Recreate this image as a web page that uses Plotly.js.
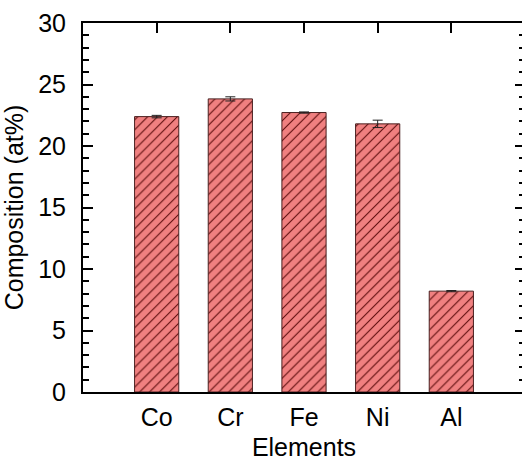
<!DOCTYPE html>
<html>
<head>
<meta charset="utf-8">
<script src="https://cdn.plot.ly/plotly-3.0.1.min.js"></script>
<style>
html,body{margin:0;padding:0;overflow:hidden;background:#fff;}
#chart{width:525px;height:461px;}
</style>
</head>
<body>
<div id="chart"></div>
<script>
const elements = ["Co", "Cr", "Fe", "Ni", "Al"];
const composition = [22.39, 23.83, 22.72, 21.80, 8.20];
const errors = [0.10, 0.17, 0.05, 0.30, 0.05];
const positions = [1, 2, 3, 4, 5];

const FONT = "Liberation Sans, Arial, sans-serif";

const trace = {
  type: "bar",
  x: positions,
  y: composition,
  width: 0.6,
  marker: {
    color: "#f08080",
    line: {color: "#4a2020", width: 1},
    pattern: {shape: "/", fgcolor: "#5a0a0a", bgcolor: "#f08080", size: 7, solidity: 0.15}
  },
  error_y: {type: "data", array: errors, visible: true, color: "#222", thickness: 1, width: 5},
  hoverinfo: "x+y"
};

const layout = {
  width: 525,
  height: 461,
  margin: {l: 83, r: 0, t: 23, b: 69},
  paper_bgcolor: "#fff",
  plot_bgcolor: "#fff",
  showlegend: false,
  font: {family: FONT, size: 25, color: "#000"},
  xaxis: {
    range: [0, 6],
    tickmode: "array",
    tickvals: positions,
    ticktext: elements,
    ticks: "inside",
    ticklen: 10,
    tickwidth: 2,
    tickcolor: "#000",
    showline: true,
    linecolor: "#000",
    linewidth: 2,
    mirror: "ticks",
    showgrid: false,
    zeroline: false,
    layer: "below traces",
    ticklabelstandoff: 2,
    tickfont: {family: FONT, size: 25},
    title: {text: "Elements", font: {family: FONT, size: 25}, standoff: 9}
  },
  yaxis: {
    range: [0, 30],
    tickmode: "linear",
    tick0: 0,
    dtick: 5,
    ticks: "inside",
    ticklen: 10,
    tickwidth: 2,
    tickcolor: "#000",
    minor: {dtick: 1, ticks: "inside", ticklen: 6, tickwidth: 2, tickcolor: "#000", showgrid: false},
    showline: true,
    linecolor: "#000",
    linewidth: 2,
    mirror: "ticks",
    showgrid: false,
    zeroline: false,
    layer: "below traces",
    ticklabelstandoff: 10,
    tickfont: {family: FONT, size: 25},
    title: {text: "Composition (at%)", font: {family: FONT, size: 25}, standoff: 14}
  }
};

Plotly.newPlot("chart", [trace], layout, {displayModeBar: false, staticPlot: true});
</script>
</body>
</html>
